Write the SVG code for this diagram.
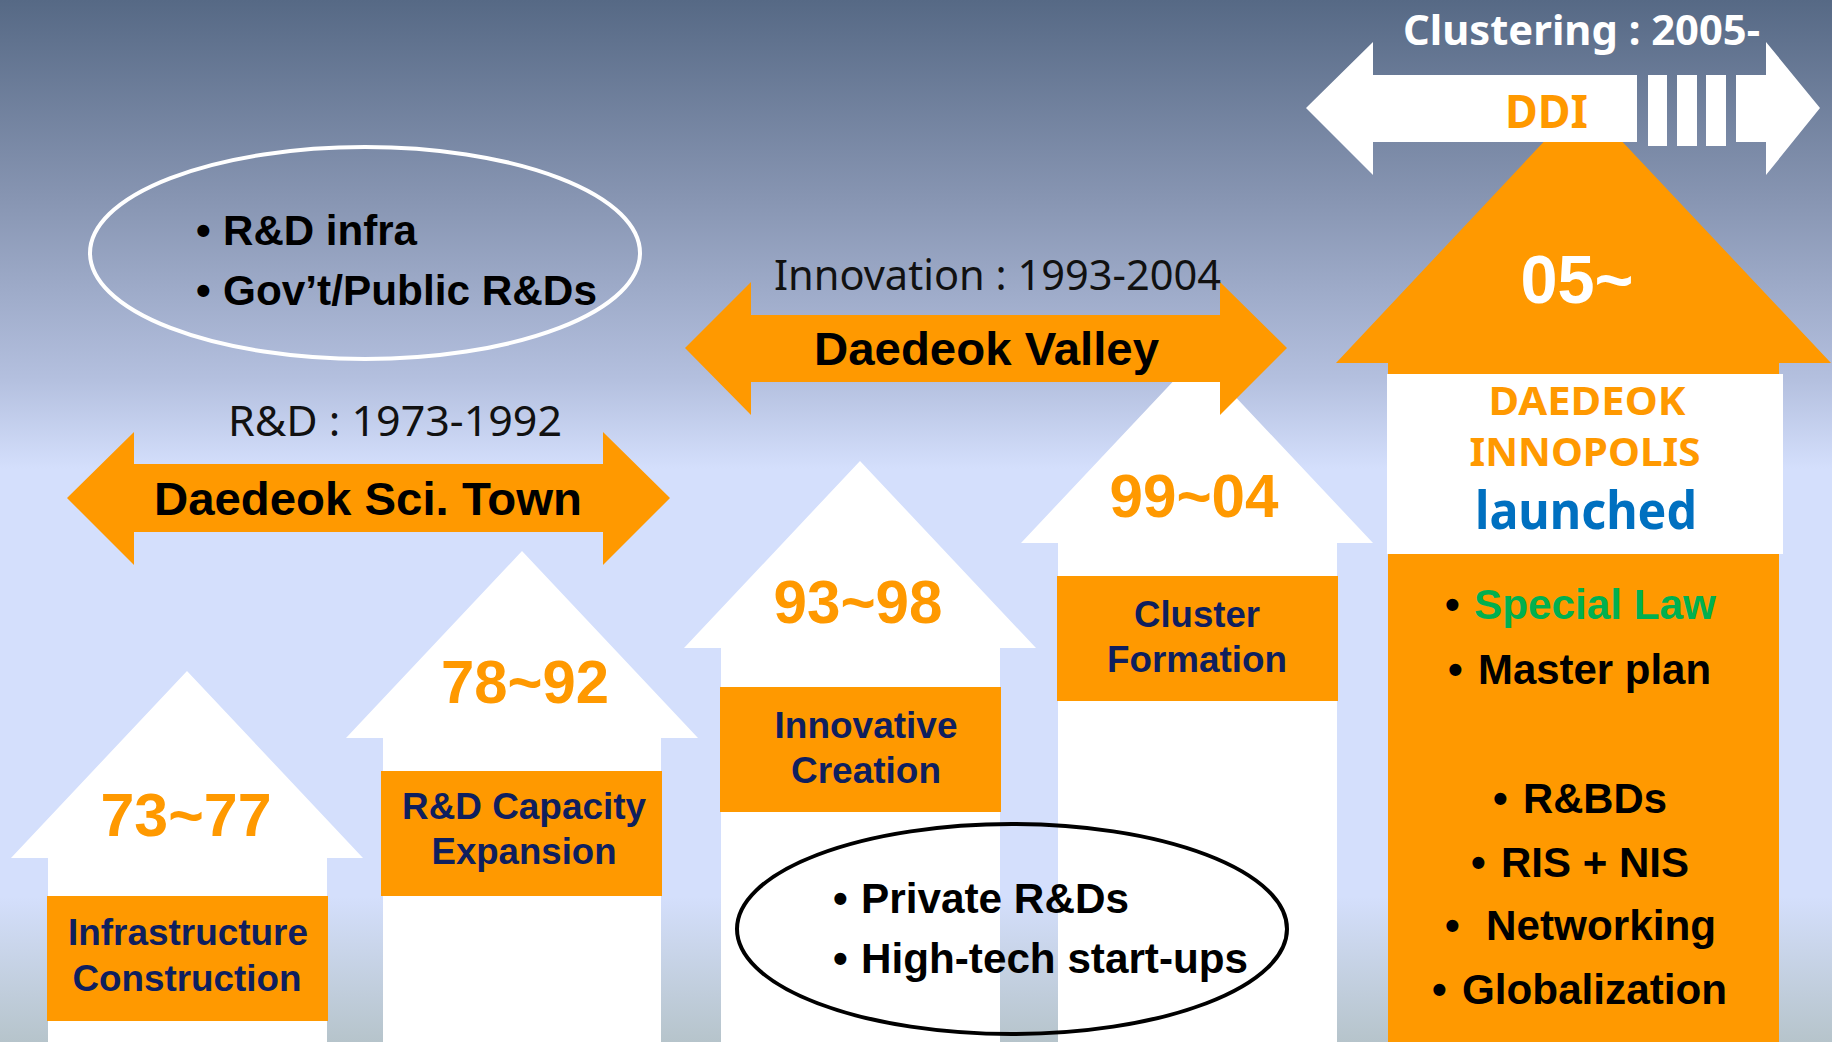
<svg xmlns="http://www.w3.org/2000/svg" width="1832" height="1042" viewBox="0 0 1832 1042">
  <defs>
    <linearGradient id="sky" x1="0" y1="0" x2="0" y2="1042" gradientUnits="userSpaceOnUse">
      <stop offset="0" stop-color="#566985"/>
      <stop offset="0.19" stop-color="#8795b2"/>
      <stop offset="0.365" stop-color="#b4c0df"/>
      <stop offset="0.45" stop-color="#d4dffc"/>
      <stop offset="0.86" stop-color="#d4dffc"/>
      <stop offset="1" stop-color="#b6c4cb"/>
    </linearGradient>
    <style>
      .house { fill: #ffffff; }
      .orange { fill: #ff9900; }
      .year { font-family: "Liberation Sans", Arial, sans-serif; font-weight: bold; font-size: 61px; fill: #ff9900; text-anchor: middle; }
      .stage { font-family: "Liberation Sans", Arial, sans-serif; font-weight: bold; font-size: 36px; fill: #0f1f5e; text-anchor: middle; }
      .span-title { font-family: "Liberation Sans", Arial, sans-serif; font-weight: bold; font-size: 47px; fill: #000000; }
      .period { font-family: "Noto Sans", "Open Sans", sans-serif; font-size: 41px; fill: #111111; }
      .bullet { font-family: "Liberation Sans", Arial, sans-serif; font-weight: bold; font-size: 42px; fill: #000000; }
      .bullet.green { fill: #00b050; }
      .gothic { font-family: "Noto Sans", "Open Sans", sans-serif; font-weight: bold; }
    </style>
  </defs>

  <!-- backdrop -->
  <rect x="0" y="0" width="1832" height="1042" fill="url(#sky)"/>

  <!-- stage 1: 73~77 -->
  <g id="stage-1973">
    <path class="house" d="M187,671 L363,858 L327,858 L327,1042 L48,1042 L48,858 L11,858 Z"/>
    <rect class="orange" x="47" y="896" width="281" height="125"/>
    <text class="year" x="186" y="836" textLength="171" lengthAdjust="spacingAndGlyphs">73~77</text>
    <text class="stage" x="188" y="945" textLength="240" lengthAdjust="spacingAndGlyphs">Infrastructure</text>
    <text class="stage" x="187" y="991" textLength="229" lengthAdjust="spacingAndGlyphs">Construction</text>
  </g>

  <!-- stage 2: 78~92 -->
  <g id="stage-1978">
    <path class="house" d="M522,551 L698,738 L661,738 L661,1042 L383,1042 L383,738 L346,738 Z"/>
    <rect class="orange" x="381" y="771" width="281" height="125"/>
    <text class="year" x="525" y="703" textLength="168" lengthAdjust="spacingAndGlyphs">78~92</text>
    <text class="stage" x="524" y="819" textLength="244" lengthAdjust="spacingAndGlyphs">R&amp;D Capacity</text>
    <text class="stage" x="524" y="864" textLength="185" lengthAdjust="spacingAndGlyphs">Expansion</text>
  </g>

  <!-- stage 3: 93~98 -->
  <g id="stage-1993">
    <path class="house" d="M860,461 L1036,648 L1000,648 L1000,1042 L721,1042 L721,648 L684,648 Z"/>
    <rect class="orange" x="720" y="687" width="281" height="125"/>
    <text class="year" x="858" y="623" textLength="169" lengthAdjust="spacingAndGlyphs">93~98</text>
    <text class="stage" x="866" y="738" textLength="183" lengthAdjust="spacingAndGlyphs">Innovative</text>
    <text class="stage" x="866" y="783" textLength="150" lengthAdjust="spacingAndGlyphs">Creation</text>
  </g>

  <!-- stage 4: 99~04 -->
  <g id="stage-1999">
    <path class="house" d="M1197,356 L1373,543 L1337,543 L1337,1042 L1058,1042 L1058,543 L1021,543 Z"/>
    <rect class="orange" x="1057" y="576" width="281" height="125"/>
    <text class="year" x="1194" y="517" textLength="169" lengthAdjust="spacingAndGlyphs">99~04</text>
    <text class="stage" x="1197" y="627" textLength="126" lengthAdjust="spacingAndGlyphs">Cluster</text>
    <text class="stage" x="1197" y="672" textLength="180" lengthAdjust="spacingAndGlyphs">Formation</text>
  </g>

  <!-- stage 5: 05~ -->
  <g id="stage-2005">
    <path class="orange" d="M1583,100 L1831,363 L1779,363 L1779,1042 L1388,1042 L1388,363 L1336,363 Z"/>
    <rect x="1387" y="374" width="396" height="180" fill="#ffffff"/>
    <text x="1577" y="303" font-family="Liberation Sans, Arial, sans-serif" font-weight="bold" font-size="68" fill="#ffffff" text-anchor="middle" textLength="113" lengthAdjust="spacingAndGlyphs">05~</text>
    <text class="gothic" x="1587" y="415" font-size="40" fill="#ff9900" text-anchor="middle" textLength="197" lengthAdjust="spacingAndGlyphs">DAEDEOK</text>
    <text class="gothic" x="1585" y="466" font-size="40" fill="#ff9900" text-anchor="middle" textLength="231" lengthAdjust="spacingAndGlyphs">INNOPOLIS</text>
    <text class="gothic" x="1586" y="529" font-size="52" fill="#0070c0" text-anchor="middle" textLength="222" lengthAdjust="spacingAndGlyphs">launched</text>
    <text class="bullet" x="1445" y="619">•</text>
    <text class="bullet green" x="1474" y="619" textLength="242" lengthAdjust="spacingAndGlyphs">Special Law</text>
    <text class="bullet" x="1448" y="684">•</text>
    <text class="bullet" x="1478" y="684" textLength="233" lengthAdjust="spacingAndGlyphs">Master plan</text>
    <text class="bullet" x="1493" y="813">•</text>
    <text class="bullet" x="1523" y="813" textLength="144" lengthAdjust="spacingAndGlyphs">R&amp;BDs</text>
    <text class="bullet" x="1471" y="877">•</text>
    <text class="bullet" x="1501" y="877" textLength="188" lengthAdjust="spacingAndGlyphs">RIS + NIS</text>
    <text class="bullet" x="1445" y="940">•</text>
    <text class="bullet" x="1486" y="940" textLength="230" lengthAdjust="spacingAndGlyphs">Networking</text>
    <text class="bullet" x="1432" y="1004">•</text>
    <text class="bullet" x="1462" y="1004" textLength="265" lengthAdjust="spacingAndGlyphs">Globalization</text>
  </g>

  <!-- period spans -->
  <g id="spans">
    <g id="span-sci-town">
      <path class="orange" d="M67,498 L134,432 L134,464 L603,464 L603,432 L670,498 L603,565 L603,532 L134,532 L134,565 Z"/>
      <text class="period" x="228" y="436" textLength="334" lengthAdjust="spacingAndGlyphs">R&amp;D : 1973-1992</text>
      <text class="span-title" x="154" y="515" textLength="428" lengthAdjust="spacingAndGlyphs">Daedeok Sci. Town</text>
    </g>
    <g id="span-valley">
      <path class="orange" d="M685,348 L751,282 L751,315 L1220,315 L1220,282 L1287,348 L1220,415 L1220,382 L751,382 L751,415 Z"/>
      <text class="period" x="774" y="290" textLength="447" lengthAdjust="spacingAndGlyphs">Innovation : 1993-2004</text>
      <text class="span-title" x="814" y="365" textLength="345" lengthAdjust="spacingAndGlyphs">Daedeok Valley</text>
    </g>
    <g id="span-ddi">
      <path fill="#ffffff" d="M1306,108 L1373,42 L1373,75 L1637,75 L1637,142 L1373,142 L1373,175 Z"/>
      <rect x="1648" y="75" width="19" height="71" fill="#ffffff"/>
      <rect x="1677" y="75" width="20" height="71" fill="#ffffff"/>
      <rect x="1706" y="75" width="20" height="71" fill="#ffffff"/>
      <path fill="#ffffff" d="M1736,75 L1766,75 L1766,42 L1820,108 L1766,175 L1766,142 L1736,142 Z"/>
      <text class="gothic" x="1403" y="45" font-size="42" fill="#ffffff" textLength="357" lengthAdjust="spacingAndGlyphs">Clustering : 2005-</text>
      <text class="gothic" x="1505" y="128" font-size="47" fill="#ff9900" textLength="83" lengthAdjust="spacingAndGlyphs">DDI</text>
    </g>
  </g>

  <!-- notes -->
  <g id="note-public">
    <ellipse cx="365" cy="253" rx="275" ry="106" fill="none" stroke="#ffffff" stroke-width="4"/>
    <text class="bullet" x="196" y="245">•</text>
    <text class="bullet" x="223" y="245" textLength="194" lengthAdjust="spacingAndGlyphs">R&amp;D infra</text>
    <text class="bullet" x="196" y="305">•</text>
    <text class="bullet" x="223" y="305" textLength="374" lengthAdjust="spacingAndGlyphs">Gov’t/Public R&amp;Ds</text>
  </g>
  <g id="note-private">
    <ellipse cx="1012" cy="929" rx="275" ry="105" fill="none" stroke="#000000" stroke-width="4"/>
    <text class="bullet" x="833" y="913">•</text>
    <text class="bullet" x="861" y="913" textLength="268" lengthAdjust="spacingAndGlyphs">Private R&amp;Ds</text>
    <text class="bullet" x="833" y="973">•</text>
    <text class="bullet" x="861" y="973" textLength="387" lengthAdjust="spacingAndGlyphs">High-tech start-ups</text>
  </g>
</svg>
